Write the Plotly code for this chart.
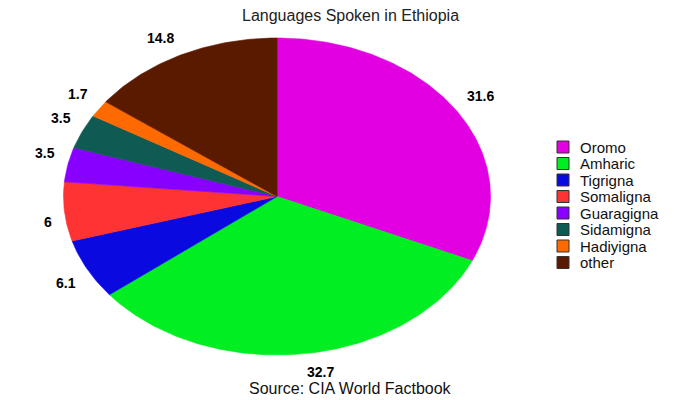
import numpy as np
import plotly.graph_objects as go

languages = ["Oromo", "Amharic", "Tigrigna", "Somaligna", "Guaragigna", "Sidamigna", "Hadiyigna", "other"]
shares = [31.6, 32.7, 6.1, 6, 3.5, 3.5, 1.7, 14.8]
label_text = ["31.6", "32.7", "6.1", "6", "3.5", "3.5", "1.7", "14.8"]
colors = ["#E200E2", "#00EE22", "#0A0AE0", "#FF3333", "#8800FF", "#0F5A52", "#FF6A00", "#5A1A00"]

# ellipse geometry (pixel space of 700x400 figure)
CX, CY, RX, RY = 277, 196.5, 213.5, 158.5
K = 1.05
LEG_X, LEG_Y0, LEG_DY = 563, 147, 16.5

fig = go.Figure()
total = sum(shares)
start = 0.0
annotations = []
for i, (name, v, col, txt) in enumerate(zip(languages, shares, colors, label_text)):
    a0 = start / total * 2 * np.pi
    a1 = (start + v) / total * 2 * np.pi
    t = np.linspace(a0, a1, max(int(v * 4), 8))
    xs = np.concatenate([[CX], CX + RX * np.sin(t), [CX]])
    ys = np.concatenate([[CY], CY - RY * np.cos(t), [CY]])
    fig.add_trace(go.Scatter(x=xs, y=ys, mode="lines", fill="toself", fillcolor=col,
                             line=dict(width=0.6, color=col), name=name, hoverinfo="name",
                             showlegend=False))
    am = (a0 + a1) / 2
    s, c = np.sin(am), np.cos(am)
    annotations.append(dict(x=CX + K * RX * s, y=CY - K * RY * c, text="<b>%s</b>" % txt,
                            showarrow=False, xref="x", yref="y",
                            xanchor="left" if s > 0 else "right",
                            yanchor="bottom" if c > 0 else "top",
                            font=dict(size=14, color="black")))
    # legend entry
    ly = LEG_Y0 + i * LEG_DY
    fig.add_trace(go.Scatter(x=[LEG_X], y=[ly], mode="markers", showlegend=False,
                             marker=dict(symbol="square", size=12, color=col,
                                         line=dict(width=1, color="#333333")),
                             hoverinfo="skip"))
    annotations.append(dict(x=LEG_X + 15, y=ly, xref="x", yref="y", text=name,
                            showarrow=False, xanchor="left", yanchor="middle",
                            font=dict(size=15, color="#111111")))
    start += v

annotations.append(dict(x=350, y=388, xref="x", yref="y", text="Source: CIA World Factbook",
                        showarrow=False, font=dict(size=16, color="#111111")))
annotations.append(dict(x=350, y=15, xref="x", yref="y", text="Languages Spoken in Ethiopia",
                        showarrow=False, font=dict(size=16, color="#222222")))

fig.update_layout(
    width=700, height=400, autosize=False,
    margin=dict(l=0, r=0, t=0, b=0),
    paper_bgcolor="white", plot_bgcolor="white",
    font=dict(family="Liberation Sans, Arial, sans-serif"),
    xaxis=dict(range=[0, 700], visible=False, fixedrange=True),
    yaxis=dict(range=[400, 0], visible=False, fixedrange=True),
    annotations=annotations,
    showlegend=False,
)
fig.write_html("out.html", config={"displayModeBar": False},
               post_script="document.body.style.margin='0';")
